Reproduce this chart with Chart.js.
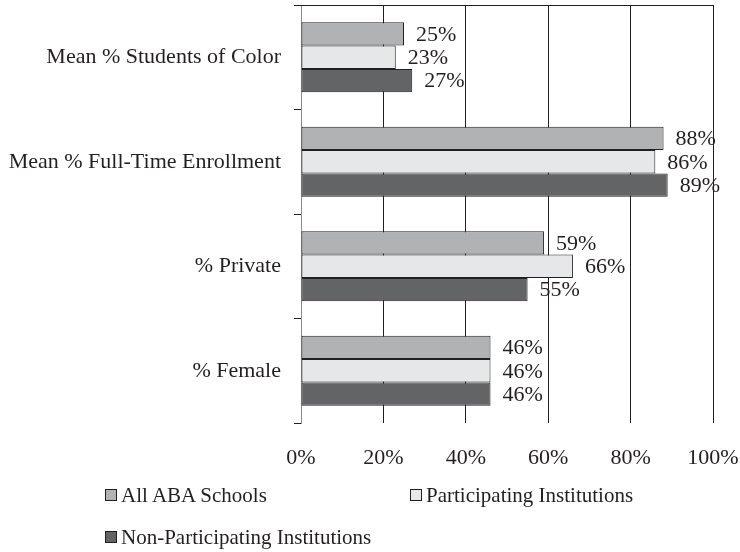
<!DOCTYPE html>
<html>
<head>
<meta charset="utf-8">
<script src="https://cdn.jsdelivr.net/npm/chart.js@4/dist/chart.umd.min.js"></script>
<style>
    body { margin: 0; background: #fff; }
    #wrap { position: relative; width: 740px; height: 552px; }
    #legend { position: absolute; left: 0; top: 0; font-family: "Liberation Serif", "Times New Roman", serif; font-size: 21px; color: #231f20; }
    .item { position: absolute; white-space: nowrap; line-height: 22px; }
    .box { display: inline-block; width: 10px; height: 10px; border: 1px solid #231f20; margin-right: 4px; vertical-align: 1px; }
</style>
</head>
<body>
<div id="wrap">
    <canvas id="chart" width="740" height="552"></canvas>
    <div id="legend"></div>
</div>
<script>
const categories = ['Mean % Students of Color', 'Mean % Full-Time Enrollment', '% Private', '% Female'];
const seriesNames = ['All ABA Schools', 'Participating Institutions', 'Non-Participating Institutions'];
const allAba = [25, 88, 59, 46];
const participating = [23, 86, 66, 46];
const nonParticipating = [27, 89, 55, 46];
const tickValues = [0, 20, 40, 60, 80, 100];

const colors = ['#b1b2b4', '#e6e7e8', '#636466'];
const ink = '#231f20';
const font = { family: '"Liberation Serif", "Times New Roman", serif', size: 22 };

// value labels to the right of each bar
const valueLabels = {
    id: 'valueLabels',
    afterDatasetsDraw(chart) {
        const ctx = chart.ctx;
        ctx.save();
        ctx.font = font.size + 'px ' + font.family;
        ctx.fillStyle = ink;
        ctx.textBaseline = 'middle';
        ctx.textAlign = 'left';
        chart.data.datasets.forEach((ds, i) => {
            chart.getDatasetMeta(i).data.forEach((bar, j) => {
                ctx.fillText(ds.data[j] + '%', bar.x + 12, bar.y + 1);
            });
        });
        ctx.restore();
    }
};

// line along the top of the plot area
const topLine = {
    id: 'topLine',
    afterDraw(chart) {
        const a = chart.chartArea;
        const ctx = chart.ctx;
        ctx.save();
        ctx.strokeStyle = ink;
        ctx.lineWidth = 1;
        ctx.beginPath();
        ctx.moveTo(a.left - 7, a.top + 0.5);
        ctx.lineTo(a.right + 0.5, a.top + 0.5);
        ctx.stroke();
        ctx.restore();
    }
};

const chart = new Chart(document.getElementById('chart'), {
    type: 'bar',
    data: {
        labels: categories,
        datasets: [allAba, participating, nonParticipating].map((d, i) => ({
            label: seriesNames[i],
            data: d,
            backgroundColor: colors[i],
            borderColor: ink,
            borderWidth: 1,
            borderSkipped: false,
            categoryPercentage: 0.67,
            barPercentage: 1.0
        }))
    },
    options: {
        indexAxis: 'y',
        responsive: false,
        animation: false,
        layout: { padding: { top: 5, right: 27, left: 0, bottom: 0 } },
        plugins: {
            legend: { display: false },
            tooltip: { enabled: false }
        },
        scales: {
            x: {
                min: 0,
                max: 100,
                afterBuildTicks: (scale) => { scale.ticks = tickValues.map(v => ({ value: v })); },
                afterFit: (scale) => {
                    scale.height = 129;
                    scale.paddingLeft = 0;
                    scale.paddingRight = 0;
                },
                ticks: {
                    font: font,
                    color: ink,
                    padding: 22,
                    callback: (v) => v + '%'
                },
                grid: { color: ink, drawTicks: false, lineWidth: 1 },
                border: { display: false }
            },
            y: {
                afterFit: (scale) => {
                    scale.width = 301;
                    scale.paddingTop = 0;
                    scale.paddingBottom = 0;
                },
                ticks: { font: font, color: ink, padding: 13 },
                grid: { drawOnChartArea: false, drawTicks: true, tickLength: 7, color: ink },
                border: { display: true, color: '#8a8a8a', width: 1 }
            }
        }
    },
    plugins: [valueLabels, topLine]
});

// HTML legend laid out like the original
const legend = document.getElementById('legend');
const spots = [[105, 484], [410, 484], [105, 526]];
seriesNames.forEach((name, i) => {
    const el = document.createElement('div');
    el.className = 'item';
    el.style.left = spots[i][0] + 'px';
    el.style.top = spots[i][1] + 'px';
    el.innerHTML = '<span class="box" style="background:' + colors[i] + '"></span>' + name;
    legend.appendChild(el);
});
</script>
</body>
</html>
